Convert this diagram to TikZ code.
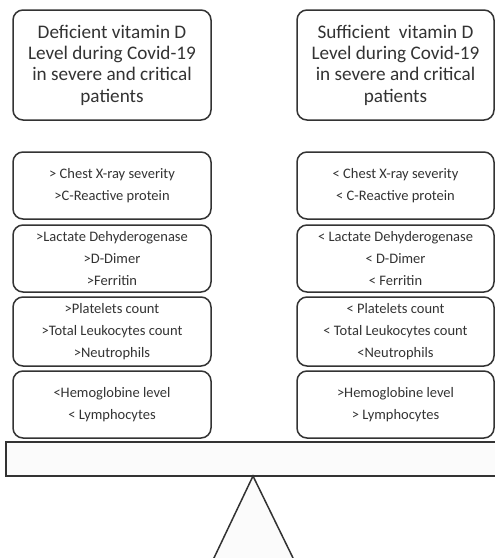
\documentclass[tikz,border=0pt]{standalone}
\usepackage{fontspec}
\setmainfont{Carlito}
\definecolor{ink}{HTML}{333333}
\definecolor{txt}{HTML}{333333}
\definecolor{pale}{HTML}{FBFBFB}
\begin{document}
\begin{tikzpicture}[x=1pt,y=-1pt,
  card/.style={draw=ink, line width=1.5pt, rounded corners=10pt, fill=white,
    minimum width=198pt, align=center, text=txt, inner sep=0pt},
  titlecard/.style={card, minimum height=110pt, font={\fontsize{19.2}{21.3}\selectfont}},
  infocard/.style={card, font={\fontsize{14.5}{21.7}\selectfont}},
  plankstyle/.style={draw=ink, line width=1.5pt, fill=pale},
]
\useasboundingbox (0,0) rectangle (495,558);
% titles
\node[titlecard] (lt) at (112,65) {Deficient vitamin D\\Level during Covid-19\\in severe and critical\\patients};
\node[titlecard, minimum width=197pt] (rt) at (395.5,65) {Sufficient~ vitamin D\\Level during Covid-19\\in severe and critical\\patients};
% left column
\node[infocard, minimum height=67pt] (l1) at (112,185.5) {> Chest X-ray severity\\>C-Reactive protein};
\node[infocard, minimum height=67pt] (l2) at (112,258.5) {>Lactate Dehyderogenase\\>D-Dimer\\>Ferritin};
\node[infocard, minimum height=69pt] (l3) at (112,331.5) {>Platelets count\\>Total Leukocytes count\\>Neutrophils};
\node[infocard, minimum height=67pt] (l4) at (112,404.5) {<Hemoglobine level\\< Lymphocytes};
% right column
\node[infocard, minimum width=197pt, minimum height=67pt] (r1) at (395.5,185.5) {< Chest X-ray severity\\< C-Reactive protein};
\node[infocard, minimum width=197pt, minimum height=67pt] (r2) at (395.5,258.5) {< Lactate Dehyderogenase\\< D-Dimer\\< Ferritin};
\node[infocard, minimum width=197pt, minimum height=69pt] (r3) at (395.5,331.5) {< Platelets count\\< Total Leukocytes count\\<Neutrophils};
\node[infocard, minimum width=197pt, minimum height=67pt] (r4) at (395.5,404.5) {>Hemoglobine level\\> Lymphocytes};
% balance
\draw[plankstyle] (6,442) rectangle (500,476);
\coordinate (apex) at (253,476);
\coordinate (bl) at (213,560);
\coordinate (br) at (294,560);
\draw[plankstyle] (bl) -- (apex) -- (br);
\end{tikzpicture}
\end{document}
